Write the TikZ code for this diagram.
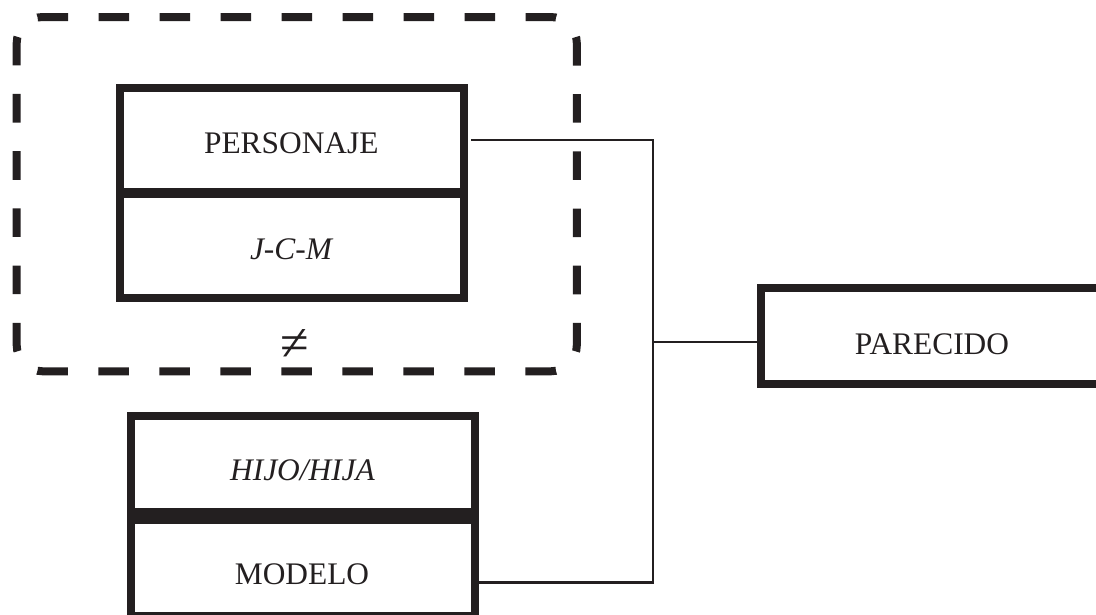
\documentclass[tikz,border=0pt]{standalone}
\usepackage{fontspec}
\setmainfont{Liberation Serif}
\usetikzlibrary{calc}
\definecolor{ink}{RGB}{35,31,32}

\tikzset{
  box/.style={draw=ink, line width=8pt, rectangle, inner sep=0pt},
  word/.style={text=ink, inner sep=0pt, anchor=base,
    font=\fontsize{31.4pt}{37pt}\selectfont},
  conn/.style={draw=ink, line width=2.6pt},
  frameside/.style={draw=ink, line width=8pt,
    dash pattern=on #1 off #1, dash phase=1.5*#1}
}

\begin{document}
\begin{tikzpicture}[x=1pt, y=-1pt]
  \useasboundingbox (0,0) rectangle (1096,614);
  \clip (0,0) rectangle (1096,614);

  % dashed group frame: one path per side, each running between
  % the midpoints of two rounded corners (y up inside this scope)
  \begin{scope}[y=1pt]
    \path[frameside=30.5pt] (24.32,-24.62)
      arc[start angle=135, end angle=90, radius=26pt] -- (550.8,-17)
      arc[start angle=90, end angle=45, radius=26pt];
    \path[frameside=28.6pt] (569.18,-24.62)
      arc[start angle=45, end angle=0, radius=26pt] -- (576.8,-345.3)
      arc[start angle=0, end angle=-45, radius=26pt];
    \path[frameside=30.5pt] (569.18,-363.68)
      arc[start angle=-45, end angle=-90, radius=26pt] -- (42.7,-371.3)
      arc[start angle=-90, end angle=-135, radius=26pt];
    \path[frameside=28.6pt] (24.32,-363.68)
      arc[start angle=-135, end angle=-180, radius=26pt] -- (16.7,-43)
      arc[start angle=180, end angle=135, radius=26pt];
  \end{scope}

  % boxes
  \node[box, minimum width=344.5pt, minimum height=103.7pt] (pers) at (291.75,139.85) {};
  \node[box, minimum width=344.5pt, minimum height=103.7pt] (jcm)  at (291.75,246.15) {};
  \node[box, minimum width=344pt, minimum height=96pt] (hijo)   at (303,464) {};
  \node[box, minimum width=344pt, minimum height=96pt] (modelo) at (303,568) {};
  \node[box, minimum width=342.4pt, minimum height=96pt] (parecido) at (932,336) {};

  % labels
  \node[word] (tpers) at (291.3,153.3) {PERSONAJE};
  \node[word] (tjcm)  at (291,259) {\itshape J-C-M};
  \node[word, anchor=center, font=\fontsize{52pt}{60pt}\selectfont] (neq) at (295,345.5) {≠};
  \node[word] (thijo) at (302.5,480.7) {\itshape HIJO/HIJA};
  \node[word] (tmod)  at (302,584) {MODELO};
  \node[word] (tpar)  at (932,354) {PARECIDO};

  % connectors
  \coordinate (bus) at (653,342);
  \coordinate (mlink) at ([yshift=-14.5pt]modelo.east);
  \draw[conn] ([xshift=3pt]pers.east) -| (bus) |- (mlink);
  \draw[conn] (bus) -- (bus -| parecido.west);
\end{tikzpicture}
\end{document}
